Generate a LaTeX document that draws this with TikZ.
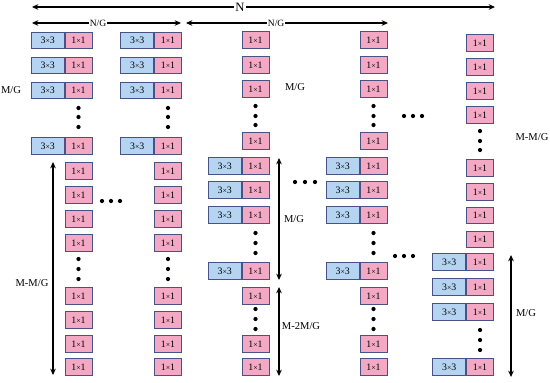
\documentclass[tikz,border=0pt]{standalone}
\usepackage{fontspec}
\setmainfont{Liberation Serif}
\usepackage{xcolor}
\usetikzlibrary{arrows.meta}

\definecolor{cellblue}{RGB}{180,212,242}
\definecolor{cellpink}{RGB}{243,168,196}
\definecolor{cellline}{RGB}{72,82,132}
\newcommand{\bx}{{\fontsize{5.5pt}{6pt}\selectfont ×}}

\begin{document}
\begin{tikzpicture}[x=0.025cm, y=-0.025cm,
  cell/.style={draw=cellline, line width=0.5pt, minimum height=0.41cm, inner sep=0pt, font=\fontsize{7pt}{8pt}\selectfont},
  one/.style={cell, fill=cellpink, minimum width=0.675cm},
  three/.style={cell, fill=cellblue, minimum width=0.825cm, anchor=east},
  dim/.style={>={Stealth[length=4.5pt,width=4pt]}, <->, line width=0.9pt},
  lbl/.style={font=\fontsize{7.5pt}{9pt}\selectfont}
]
\useasboundingbox (0,0) rectangle (550,382);

% Top arrows
\coordinate (nl) at (32,7);
\coordinate (nr) at (495,7);
\draw[dim] (nl) -- node[pos=0.449, fill=white, inner sep=1pt, font=\fontsize{9pt}{10pt}\selectfont] {N} (nr);

\coordinate (g1l) at (32,23);
\coordinate (g1r) at (181,23);
\draw[dim] (g1l) -- node[pos=0.443, fill=white, inner sep=0.5pt, font=\fontsize{6.8pt}{8pt}\selectfont] {N/G} (g1r);

\coordinate (g2l) at (186,23);
\coordinate (g2r) at (388,23);
\draw[dim] (g2l) -- node[pos=0.446, fill=white, inner sep=0.5pt, font=\fontsize{6.8pt}{8pt}\selectfont] {N/G} (g2r);

% Group 1: columns a and b
\foreach \c/\x in {a/78.5, b/168} {
  \foreach \y [count=\i] in {40.5,65.5,90.5,146} {
    \node[one] (\c t\i) at (\x,\y) {1\bx1};
    \node[three] (\c s\i) at (\c t\i.west) {3\bx3};
  }
  \foreach \y [count=\i] in {171,195,219,243,296,320,344,367}
    \node[one] (\c o\i) at (\x,\y) {1\bx1};
  \foreach \y in {108,117,127,259,269,279}
    \fill (\x,\y) circle (1.5pt);
}

% Group 2: columns c and d
\foreach \c/\x in {c/255.5, d/373.5} {
  \foreach \y [count=\i] in {40,65,89,141,296,344,367}
    \node[one] (\c o\i) at (\x,\y) {1\bx1};
  \foreach \y [count=\i] in {166,190,215,271} {
    \node[one] (\c t\i) at (\x,\y) {1\bx1};
    \node[three] (\c s\i) at (\c t\i.west) {3\bx3};
  }
  \foreach \y in {106,116,125,233,243,253,309,319,329}
    \fill (\x,\y) circle (1.5pt);
}

% Group 3: column e
\foreach \y [count=\i] in {43,67,91,115,168,192,215.5,239.5}
  \node[one] (eo\i) at (480,\y) {1\bx1};
\foreach \y [count=\i] in {262,287,312,367} {
  \node[one] (et\i) at (480,\y) {1\bx1};
  \node[three] (es\i) at (et\i.west) {3\bx3};
}
\foreach \y in {131,141,150,330,340,350}
  \fill (480,\y) circle (1.5pt);

% Horizontal ellipses
\foreach \x/\y in {102/201, 111/201, 120/201, 295/182, 305/182, 315/182,
                   395/256, 404/256, 413/256, 404/116, 413/116, 422/116}
  \fill (\x,\y) circle (1.5pt);

% Vertical arrows
\coordinate (v1t) at (53,162);
\coordinate (v1b) at (53,375);
\draw[dim] (v1t) -- (v1b);
\node[lbl] (l1) at (32,283) {M-M/G};

\coordinate (v2t) at (279,158);
\coordinate (v2b) at (279,280);
\draw[dim] (v2t) -- (v2b);
\node[lbl] (l2) at (294,219) {M/G};

\coordinate (v3t) at (279,287);
\coordinate (v3b) at (279,376);
\draw[dim] (v3t) -- (v3b);
\node[lbl] (l3) at (301,326) {M-2M/G};

\coordinate (v4t) at (511,255);
\coordinate (v4b) at (511,377);
\draw[dim] (v4t) -- (v4b);
\node[lbl] (l4) at (526,313) {M/G};

% Free labels
\node[lbl] (l5) at (11,90) {M/G};
\node[lbl] (l6) at (295,87) {M/G};
\node[lbl] (l7) at (532,137) {M-M/G};

\end{tikzpicture}
\end{document}
